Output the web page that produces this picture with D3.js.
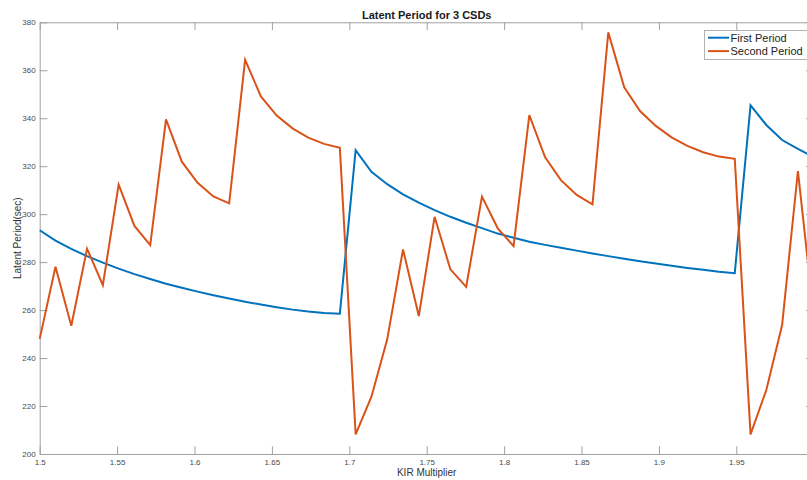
<!DOCTYPE html>
<html>
<head>
<meta charset="utf-8">
<script src="https://cdn.jsdelivr.net/npm/d3@7"></script>
<style>
  body { margin: 0; background: #fff; }
  svg { display: block; font-family: Helvetica, "Liberation Sans", Arial, sans-serif; }
</style>
</head>
<body>
<div class="figure"></div>
<script>
const w = 807;
const h = 480;

// KIR multiplier samples (50 points, 1.5 .. 2.0)
const kir = [1.5000, 1.5102, 1.5204, 1.5306, 1.5408, 1.5510, 1.5612, 1.5714, 1.5816, 1.5918,
  1.6020, 1.6122, 1.6224, 1.6327, 1.6429, 1.6531, 1.6633, 1.6735, 1.6837, 1.6939,
  1.7041, 1.7143, 1.7245, 1.7347, 1.7449, 1.7551, 1.7653, 1.7755, 1.7857, 1.7959,
  1.8061, 1.8163, 1.8265, 1.8367, 1.8469, 1.8571, 1.8673, 1.8776, 1.8878, 1.8980,
  1.9082, 1.9184, 1.9286, 1.9388, 1.9490, 1.9592, 1.9694, 1.9796, 1.9898, 2.0000];

const firstPeriod = [293.3, 289.0, 285.5, 282.5, 279.8, 277.3, 275.0, 273.0, 271.0, 269.3,
  267.7, 266.2, 264.8, 263.5, 262.3, 261.2, 260.2, 259.4, 258.8, 258.5,
  326.7, 317.7, 312.5, 308.3, 304.8, 301.7, 298.9, 296.4, 294.2, 291.9,
  290.2, 288.5, 287.2, 286.0, 284.8, 283.6, 282.5, 281.4, 280.4, 279.4,
  278.5, 277.6, 276.8, 276.0, 275.4, 345.4, 337.2, 330.9, 327.2, 323.8];

const secondPeriod = [248.0, 278.1, 253.5, 285.6, 270.4, 312.3, 295.1, 287.1, 339.5, 321.9,
  313.1, 307.4, 304.5, 364.3, 349.1, 341.1, 335.8, 331.9, 329.3, 327.7,
  208.2, 223.9, 247.8, 285.3, 257.5, 298.9, 277.0, 269.7, 307.3, 294.1,
  286.7, 341.3, 323.7, 314.2, 308.0, 304.1, 375.8, 352.9, 343.0, 336.8,
  332.0, 328.5, 325.8, 324.0, 323.1, 208.2, 226.7, 253.8, 318.0, 258.0];

const xTicks = [1.5, 1.55, 1.6, 1.65, 1.7, 1.75, 1.8, 1.85, 1.9, 1.95, 2];
const yTicks = [200, 220, 240, 260, 280, 300, 320, 340, 360, 380];

const seriesNames = ["First Period", "Second Period"];
const colors = ["#0072BD", "#D95319"];

const plotLeft = 39.7, plotTop = 22.3, plotRight = 813.7, plotBottom = 454;

let x = d3.scaleLinear().domain([1.5, 2]).range([plotLeft, plotRight]);
let y = d3.scaleLinear().domain([200, 380]).range([plotBottom, plotTop]);

let svg = d3.select(".figure")
  .append("svg")
  .attr("width", w)
  .attr("height", h);

const axisColor = "#a0a0a0";
const labelColor = "#4a4a4a";

function styleAxis(g) {
  g.select(".domain").attr("stroke", axisColor).attr("stroke-width", 1);
  g.selectAll(".tick line").attr("stroke", axisColor);
  g.selectAll(".tick text").attr("fill", labelColor).attr("font-size", 8);
}

// bottom axis, ticks point inward; the "2" label falls outside the cropped figure
svg.append("g")
  .attr("transform", "translate(0," + plotBottom + ")")
  .call(d3.axisBottom(x).tickValues(xTicks)
    .tickFormat(d => x(d) > w - 4 ? "" : d3.format("")(d))
    .tickSizeInner(-7.7).tickSizeOuter(0).tickPadding(5))
  .call(styleAxis);

// top axis (no labels)
svg.append("g")
  .attr("transform", "translate(0," + plotTop + ")")
  .call(d3.axisTop(x).tickValues(xTicks).tickFormat("").tickSizeInner(-7.7).tickSizeOuter(0))
  .call(styleAxis);

// left axis
svg.append("g")
  .attr("transform", "translate(" + plotLeft + ",0)")
  .call(d3.axisLeft(y).tickValues(yTicks).tickFormat(d3.format("")).tickSizeInner(-7.7).tickSizeOuter(0).tickPadding(4))
  .call(styleAxis);

// right axis (no labels)
svg.append("g")
  .attr("transform", "translate(" + plotRight + ",0)")
  .call(d3.axisRight(y).tickValues(yTicks).tickFormat("").tickSizeInner(-7.7).tickSizeOuter(0))
  .call(styleAxis);

// lines
let line = d3.line()
  .x((d, i) => x(kir[i]))
  .y(d => y(d));

[firstPeriod, secondPeriod].forEach((s, k) => {
  svg.append("path")
    .datum(s)
    .attr("fill", "none")
    .attr("stroke", colors[k])
    .attr("stroke-width", 2)
    .attr("stroke-linejoin", "miter")
    .attr("d", line);
});

// title
svg.append("text")
  .attr("x", (plotLeft + plotRight) / 2)
  .attr("y", 19)
  .attr("text-anchor", "middle")
  .attr("font-weight", "bold")
  .attr("font-size", 11)
  .attr("fill", "#1a1a1a")
  .text("Latent Period for 3 CSDs");

// axis labels
svg.append("text")
  .attr("x", (plotLeft + plotRight) / 2)
  .attr("y", 476)
  .attr("text-anchor", "middle")
  .attr("font-size", 10)
  .attr("fill", "#333")
  .text("KIR Multiplier");

svg.append("text")
  .attr("transform", "translate(21," + (plotTop + plotBottom) / 2 + ") rotate(-90)")
  .attr("text-anchor", "middle")
  .attr("font-size", 10)
  .attr("fill", "#333")
  .text("Latent Period(sec)");

// legend
let legend = svg.append("g");
legend.append("rect")
  .attr("x", 704.5)
  .attr("y", 30.5)
  .attr("width", 110)
  .attr("height", 29)
  .attr("fill", "#fff")
  .attr("stroke", axisColor)
  .attr("stroke-width", 0.8);

seriesNames.forEach((name, k) => {
  const cy = 37.7 + k * 13.4;
  legend.append("line")
    .attr("x1", 708).attr("x2", 729)
    .attr("y1", cy).attr("y2", cy)
    .attr("stroke", colors[k])
    .attr("stroke-width", 2);
  legend.append("text")
    .attr("x", 730.5)
    .attr("y", cy + 4)
    .attr("font-size", 11)
    .attr("fill", "#222")
    .text(name);
});
</script>
</body>
</html>
